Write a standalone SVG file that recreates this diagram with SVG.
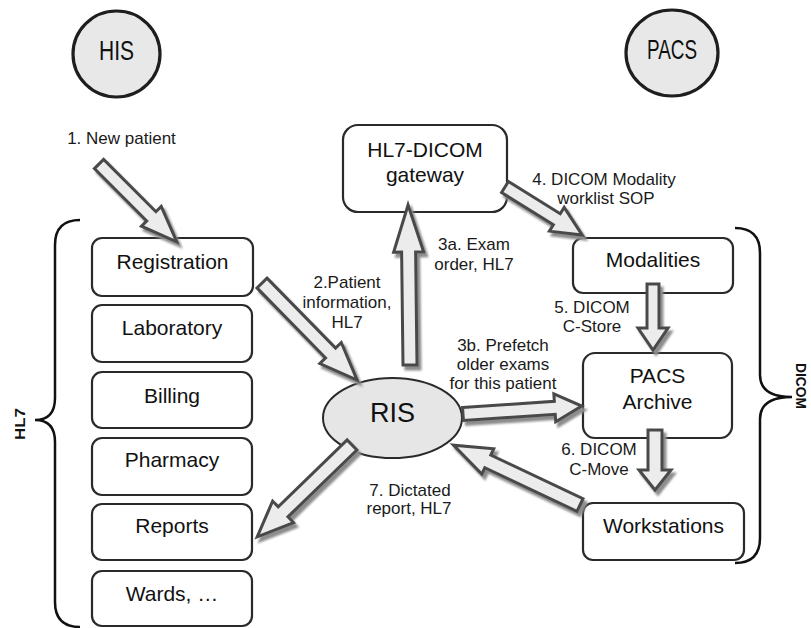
<svg xmlns="http://www.w3.org/2000/svg" width="811" height="628" viewBox="0 0 811 628">
<style>
.bg{fill:#fff}
.oval{fill:#e8e8e8;stroke:#1e1e1e;stroke-width:3.2}
.ris{fill:#e6e6e6;stroke:#2a2a2a;stroke-width:2}
.box{fill:#fff;stroke:#2a2a2a;stroke-width:2.2}
.t{font-family:"Liberation Sans",Arial,sans-serif;fill:#111;text-anchor:middle}
.big{font-size:28px}
.nt{font-size:21px}
.lb{font-family:"Liberation Sans",Arial,sans-serif;font-size:17px;fill:#1a1a1a;text-anchor:middle}
.side{font-family:"Liberation Sans",Arial,sans-serif;font-size:14px;font-weight:bold;fill:#111;text-anchor:middle}
.brace{fill:none;stroke:#111;stroke-width:2.5}
.arr{fill:#ececec;stroke:#4a4a4a;stroke-width:3;stroke-linejoin:miter}
</style>
<defs>
<filter id="sh" x="-30%" y="-30%" width="170%" height="170%">
<feDropShadow dx="3" dy="4" stdDeviation="1" flood-color="#8c8c8c" flood-opacity="1"/>
</filter>
</defs>
<rect class="bg" width="811" height="628"/>

<g id="his">
<ellipse class="oval" cx="116.5" cy="54" rx="43.5" ry="43"/>
<text class="t big" x="116.5" y="60" textLength="35" lengthAdjust="spacingAndGlyphs">HIS</text>
</g>
<g id="pacs">
<ellipse class="oval" cx="672" cy="53" rx="46" ry="43"/>
<text class="t big" x="672" y="59" textLength="50" lengthAdjust="spacingAndGlyphs">PACS</text>
</g>

<g id="hl7-brace">
<path class="brace" d="M80,220 Q55,220 55,245 L55,398 Q55,420 35,420 Q55,420 55,442 L55,602 Q55,627 80,627"/>
<text class="side" transform="translate(25,424) rotate(-90)" textLength="32" lengthAdjust="spacingAndGlyphs">HL7</text>
</g>
<g id="dicom-brace">
<path class="brace" d="M735,228 Q760,228 760,253 L760,375 Q760,397 792,397 Q760,397 760,419 L760,538 Q760,563 735,563"/>
<text class="side" transform="translate(796,386) rotate(90)" textLength="46" lengthAdjust="spacingAndGlyphs">DICOM</text>
</g>

<g id="registration"><rect class="box" x="92" y="238" width="161" height="58" rx="10"/><text class="t nt" x="172.5" y="269">Registration</text></g>
<g id="laboratory"><rect class="box" x="92" y="305" width="160" height="57" rx="10"/><text class="t nt" x="172" y="335">Laboratory</text></g>
<g id="billing"><rect class="box" x="92" y="372" width="160" height="56" rx="10"/><text class="t nt" x="172" y="403">Billing</text></g>
<g id="pharmacy"><rect class="box" x="92" y="438" width="160" height="57" rx="10"/><text class="t nt" x="172" y="467">Pharmacy</text></g>
<g id="reports"><rect class="box" x="92" y="504" width="160" height="56" rx="10"/><text class="t nt" x="172" y="533">Reports</text></g>
<g id="wards"><rect class="box" x="92" y="571" width="160" height="55" rx="10"/><text class="t nt" x="172" y="601">Wards, …</text></g>

<g id="gateway"><rect class="box" x="343" y="125" width="164" height="87" rx="15"/><text class="t nt" x="425" y="157">HL7-DICOM</text><text class="t nt" x="425" y="182">gateway</text></g>
<g id="ris"><ellipse class="ris" cx="392.5" cy="418" rx="69.5" ry="40"/><text class="t" style="font-size:27px" x="392.5" y="422">RIS</text></g>
<g id="modalities"><rect class="box" x="573" y="238" width="160" height="55" rx="10"/><text class="t nt" x="653" y="267">Modalities</text></g>
<g id="pacs-archive"><rect class="box" x="583" y="353" width="149" height="85" rx="12"/><text class="t nt" x="657.5" y="383">PACS</text><text class="t nt" x="657.5" y="409">Archive</text></g>
<g id="workstations"><rect class="box" x="583" y="503" width="161" height="57" rx="10"/><text class="t nt" x="663.5" y="533">Workstations</text></g>

<g id="connectors">
<g class="arr" filter="url(#sh)"><polygon transform="translate(99,164) rotate(45)" points="0,-6.5 74,-6.5 74,-14 110,0 74,14 74,6.5 0,6.5"/></g>
<g class="arr" filter="url(#sh)"><polygon transform="translate(262,283) rotate(45.6)" points="0,-7 98,-7 98,-15 136,0 98,15 98,7 0,7"/></g>
<g class="arr" filter="url(#sh)"><polygon transform="translate(410,365) rotate(-90.7)" points="0,-7 113,-7 113,-15 160,0 113,15 113,7 0,7"/></g>
<g class="arr" filter="url(#sh)"><polygon transform="translate(505,187) rotate(31.9)" points="0,-6.5 61,-6.5 61,-14 91,0 61,14 61,6.5 0,6.5"/></g>
<g class="arr" filter="url(#sh)"><polygon transform="translate(653,284) rotate(90)" points="0,-6 44,-6 44,-15 66,0 44,15 44,6 0,6"/></g>
<g class="arr" filter="url(#sh)"><polygon transform="translate(463,414) rotate(-3.85)" points="0,-6.5 92,-6.5 92,-14 119,0 92,14 92,6.5 0,6.5"/></g>
<g class="arr" filter="url(#sh)"><polygon transform="translate(655,430) rotate(90)" points="0,-7 40,-7 40,-16 60,0 40,16 40,7 0,7"/></g>
<g class="arr" filter="url(#sh)"><polygon transform="translate(580,505) rotate(-154.7)" points="0,-7 102,-7 102,-14 140,0 102,14 102,7 0,7"/></g>
<g class="arr" filter="url(#sh)"><polygon transform="translate(352,445) rotate(135.9)" points="0,-7 96,-7 96,-15 132,0 96,15 96,7 0,7"/></g>
</g>

<g id="labels">
<text class="lb" x="121.5" y="144">1.  New patient</text>
<text class="lb" x="347" y="288">2.Patient</text>
<text class="lb" x="347" y="308">information,</text>
<text class="lb" x="347" y="328">HL7</text>
<text class="lb" x="474" y="250">3a.  Exam</text>
<text class="lb" x="474" y="270">order, HL7</text>
<text class="lb" x="604" y="185">4.  DICOM Modality</text>
<text class="lb" x="606" y="204">worklist SOP</text>
<text class="lb" x="592" y="313">5.  DICOM</text>
<text class="lb" x="592" y="332">C-Store</text>
<text class="lb" x="503" y="351">3b.  Prefetch</text>
<text class="lb" x="503" y="370">older exams</text>
<text class="lb" x="503" y="389">for this patient</text>
<text class="lb" x="599" y="455">6.  DICOM</text>
<text class="lb" x="599" y="475">C-Move</text>
<text class="lb" x="410" y="496">7.  Dictated</text>
<text class="lb" x="409" y="514">report, HL7</text>
</g>
</svg>
